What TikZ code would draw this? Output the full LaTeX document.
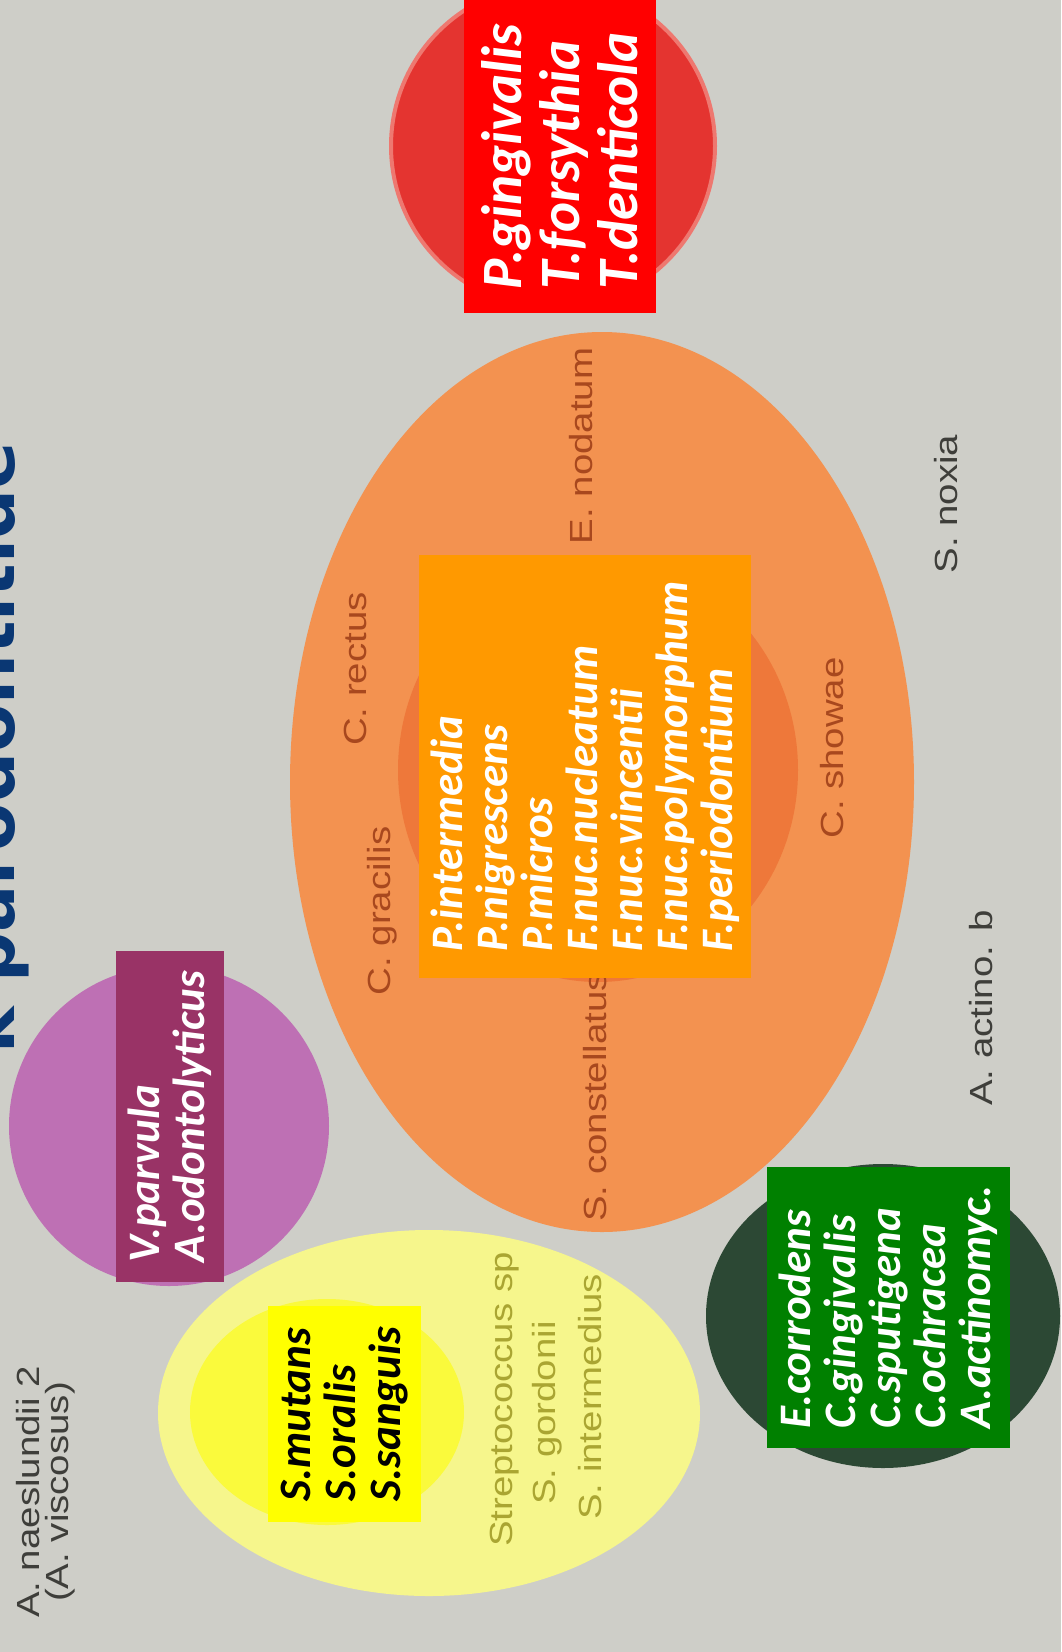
\documentclass[tikz,border=0pt]{standalone}
\usepackage{fontspec}
\newfontfamily\boxfont{Carlito}
\newfontfamily\tagfont[FakeStretch=1.2]{Liberation Sans}
\newfontfamily\headfont{DejaVu Sans}
\definecolor{paper}{RGB}{206,206,200}
\definecolor{orangeback}{RGB}{243,146,80}
\definecolor{orangecore}{RGB}{238,120,58}
\definecolor{redcirc}{RGB}{228,52,48}
\definecolor{redrim}{RGB}{238,120,112}
\definecolor{purplecirc}{RGB}{190,112,180}
\definecolor{yellowback}{RGB}{246,246,140}
\definecolor{yellowcore}{RGB}{250,250,60}
\definecolor{greencirc}{RGB}{44,72,52}
\definecolor{redbox}{RGB}{255,0,0}
\definecolor{orangebox}{RGB}{255,153,0}
\definecolor{purplebox}{RGB}{153,51,102}
\definecolor{yellowbox}{RGB}{255,255,0}
\definecolor{greenbox}{RGB}{0,128,0}
\definecolor{tagorange}{RGB}{168,72,30}
\definecolor{taggray}{RGB}{62,62,58}
\definecolor{tagyellow}{RGB}{170,165,50}
\definecolor{headblue}{RGB}{10,55,115}
\begin{document}
\begin{tikzpicture}[x=1pt, y=-1pt,
    tag/.style={rotate=90, inner sep=0pt, font=\tagfont\fontsize{32}{28}\selectfont},
    grp/.style={rotate=90, inner sep=0pt, align=left, text=white,
      font=\boxfont\bfseries\itshape\fontsize{45}{45}\selectfont}]
\useasboundingbox (0,0) rectangle (1061,1652);
\clip (0,0) rectangle (1061,1652);
\fill[paper] (0,0) rectangle (1061,1652);

\node[rotate=90, anchor=base west, inner sep=0pt, text=headblue,
      font=\headfont\bfseries\fontsize{70}{70}\selectfont] (title) at (14,1054) {k parodontitide};

\filldraw[fill=redcirc, draw=redrim, line width=4pt] (553,146) circle [radius=162];
\fill[orangeback] (602,782) ellipse [x radius=312, y radius=450];
\fill[orangecore] (598,770) ellipse [x radius=200, y radius=212];
\fill[purplecirc] (169,1126) circle [radius=160];
\fill[yellowback] (429,1413) ellipse [x radius=271, y radius=183];
\fill[yellowcore] (327,1412) ellipse [x radius=137, y radius=113];
\fill[greencirc] (883,1316) ellipse [x radius=177, y radius=152];

\node[tag, text=taggray, align=center, font=\tagfont\fontsize{32}{29}\selectfont] (naeslundii) at (46,1492) {A. naeslundii 2\\(A. viscosus)};
\node[tag, text=tagorange] (rectus) at (355,669) {C. rectus};
\node[tag, text=tagorange] (gracilis) at (382,911) {C. gracilis};
\node[tag, text=tagorange] (nodatum) at (581,446) {E. nodatum};
\node[tag, text=tagorange, anchor=west] (constellatus) at (595,1222) {S. constellatus};
\node[tag, text=tagorange] (showae) at (832,748) {C. showae};
\node[tag, text=taggray] (noxia) at (946,504) {S. noxia};
\node[tag, text=taggray] (actino) at (981,1008) {A. actino. b};
\node[tag, text=tagyellow, anchor=west] (strepto) at (505,1547) {Streptococcus sp};
\node[tag, text=tagyellow, anchor=west] (gordonii) at (547,1505) {S. gordonii};
\node[tag, text=tagyellow, anchor=west] (intermedius) at (590,1520) {S. intermedius};

\node[grp, fill=redbox, minimum width=313pt, minimum height=192pt,
      font=\boxfont\bfseries\itshape\fontsize{57}{58}\selectfont] (red) at (560,156.5)
  {P.gingivalis\\T.forsythia\\T.denticola};
\node[grp, fill=orangebox, minimum width=423pt, minimum height=332pt] (orange) at (585,766.5)
  {P.intermedia\\P.nigrescens\\P.micros\\F.nuc.nucleatum\\F.nuc.vincentii\\F.nuc.polymorphum\\F.periodontium};
\node[grp, fill=purplebox, minimum width=331pt, minimum height=108pt] (purple) at (170,1116.5)
  {V.parvula\\A.odontolyticus};
\node[grp, fill=yellowbox, text=black, minimum width=216pt, minimum height=153pt] (yellow) at (344.5,1414)
  {S.mutans\\S.oralis\\S.sanguis};
\node[grp, fill=greenbox, minimum width=281pt, minimum height=243pt] (green) at (888,1307)
  {E.corrodens\\C.gingivalis\\C.sputigena\\C.ochracea\\A.actinomyc.};
\end{tikzpicture}
\end{document}
